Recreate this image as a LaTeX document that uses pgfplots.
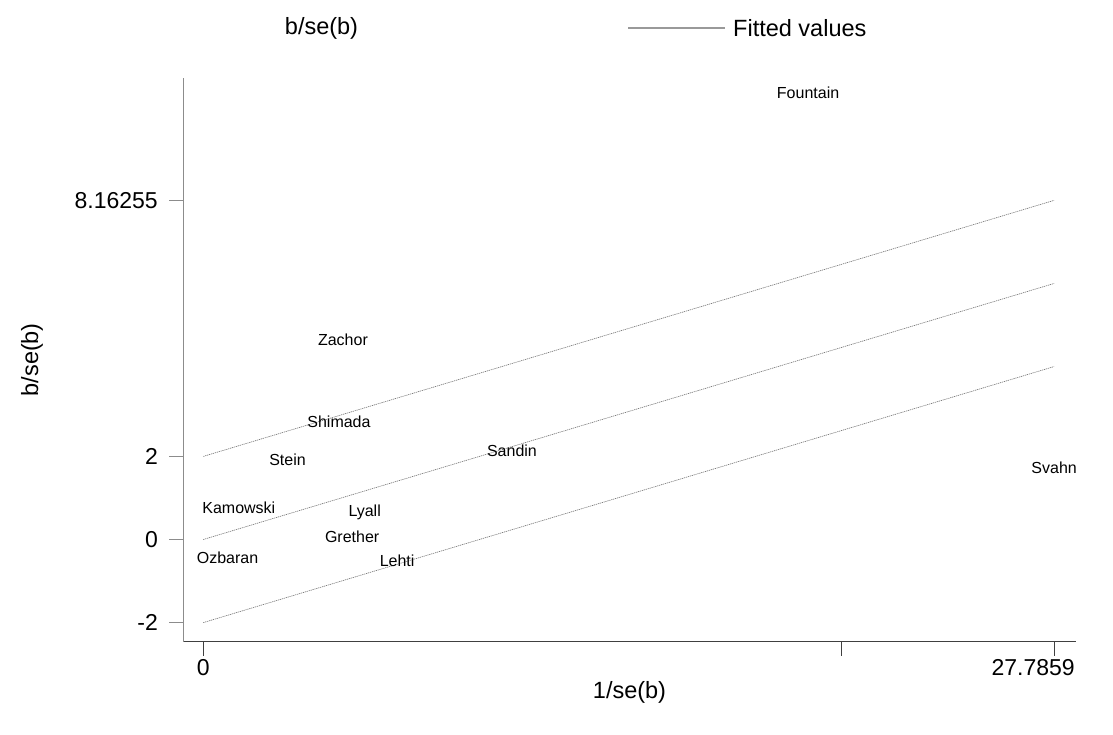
\documentclass[border=0pt]{standalone}
\usepackage{fontspec}
\setmainfont{Liberation Sans}
\usepackage{pgfplots}
\pgfplotsset{compat=1.18}

% Galbraith plot: study labels at (1/se(b), b/se(b))
\pgfplotstableread{
x      y      label
19.75  10.75  Fountain
4.56   4.80   Zachor
4.43   2.83   Shimada
2.75   1.91   Stein
10.08  2.13   Sandin
27.7859 1.73  Svahn
1.16   0.76   Kamowski
5.27   0.69   Lyall
4.86   0.07   Grether
0.79   -0.43  Ozbaran
6.33   -0.52  Lehti
}\studies

\definecolor{fitgray}{HTML}{707070}

\begin{document}
\begin{tikzpicture}
\useasboundingbox (0,0) rectangle (1113pt,-735pt);
\begin{axis}[
    at={(183pt,-641.5pt)}, anchor=south west,
    scale only axis, width=893pt, height=563.5pt,
    xmin=-0.663, xmax=28.50,
    ymin=-2.455, ymax=11.107,
    axis x line*=bottom, axis y line*=left,
    x axis line style={draw=black!75, line width=0.9pt},
    y axis line style={draw=black!45, line width=0.9pt},
    xtick style={draw=black!75, line width=0.9pt},
    ytick style={draw=black!45, line width=0.9pt},
    tick align=outside, major tick length=14pt,
    xtick={0,20.84}, xticklabels={0,{}},
    extra x ticks={27.7859}, extra x tick labels={27.7859},
    extra x tick style={xticklabel style={xshift=-21pt}},
    ytick={-2,0,2,8.16255}, yticklabels={-2,0,2,8.16255},
    tick label style={font=\fontsize{23}{27}\selectfont},
    xticklabel style={inner sep=0pt, yshift=-4pt},
    yticklabel style={inner sep=0pt, xshift=-11pt},
    xlabel={1/se(b)}, ylabel={b/se(b)},
    label style={font=\fontsize{23.5}{28}\selectfont},
    xlabel style={at={(axis description cs:0.5,-0.0896)}, anchor=center},
    ylabel style={at={(axis description cs:-0.1691,0.5)}, anchor=center},
    clip=false,
]
\addplot[fitgray, line width=0.6pt, dash pattern=on 1.2pt off 0.8pt]
    coordinates {(0,2) (27.7859,8.16255)};
\addplot[fitgray, line width=0.6pt, dash pattern=on 1.2pt off 0.8pt]
    coordinates {(0,0) (27.7859,6.16255)};
\addplot[fitgray, line width=0.6pt, dash pattern=on 1.2pt off 0.8pt]
    coordinates {(0,-2) (27.7859,4.16255)};
\addplot[only marks, mark=*, mark size=0pt,
    scatter/use mapped color={draw opacity=0, fill opacity=0},
    nodes near coords, point meta=explicit symbolic,
    every node near coord/.style={anchor=center, inner sep=0pt,
        text=black, text opacity=1, text height=11.5pt, text depth=0pt,
        font=\fontsize{16}{19}\selectfont}]
    table[x=x, y=y, meta=label] {\studies};
\end{axis}
% legend
\node[font=\fontsize{23.5}{28}\selectfont, inner sep=0pt] at (321.5pt,-28pt) {b/se(b)};
\draw[black!40, line width=1.8pt] (628pt,-28.3pt) -- (725pt,-28.3pt);
\node[font=\fontsize{23.5}{28}\selectfont, inner sep=0pt, anchor=west] at (733pt,-28pt) {Fitted values};
\end{tikzpicture}
\end{document}
